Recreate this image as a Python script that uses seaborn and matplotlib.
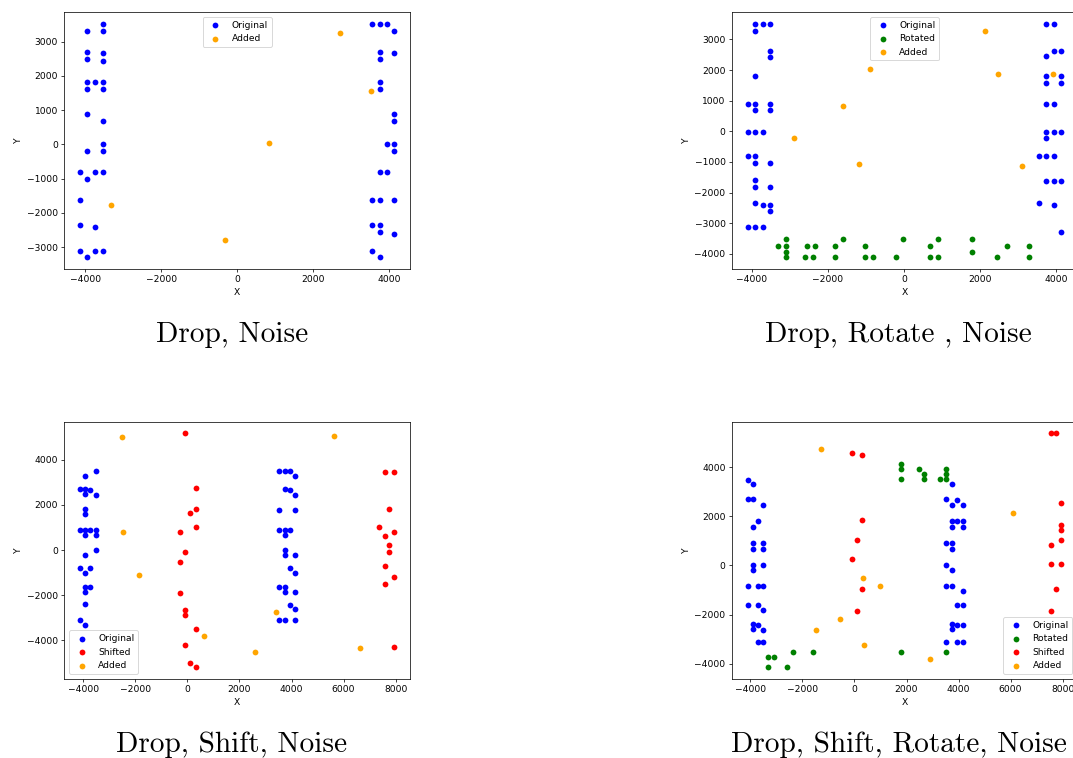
import matplotlib
matplotlib.use("Agg")
import matplotlib.pyplot as plt
import seaborn as sns
import pandas as pd

# ---------------- Panel 1: Drop, Noise ----------------
p1_orig_x = [-3950, -3540, -3540, -3950, -3950, -3540, -3540, -3950, -3744, -3540, -3950, -3540,
             -3950, -3540, -3540, -3950, -3540, -4141, -3744, -3540, -3950, -4141, -4141, -3744,
             -4141, -3744, -3540, -3950,
             3542, 3744, 3947, 4132, 3744, 3744, 4132, 3744, 3744, 4132, 4132, 3947, 4132, 4132,
             3744, 3947, 3542, 3744, 4132, 3542, 3744, 3744, 4132, 3542, 3744]
p1_orig_y = [3300, 3500, 3300, 2690, 2485, 2660, 2447, 1806, 1806, 1806, 1602, 1602,
             893, 689, 0, -204, -204, -816, -816, -816, -1019, -1612, -2350, -2417,
             -3117, -3117, -3117, -3301,
             3515, 3515, 3515, 3301, 2690, 2485, 2660, 1806, 1602, 893, 689, 0, 0, -204,
             -816, -816, -1612, -1612, -1612, -2350, -2350, -2553, -2621, -3117, -3301]
p1_add_x = [2696, 3507, 846, -3322, -317]
p1_add_y = [3243, 1544, 39, -1786, -2796]

# ---------------- Panel 2: Drop, Rotate, Noise ----------------
p2_orig_x = [-3912, -3711, -3518, -3912, -3518, -3518, -3912, -4105, -3912, -3518, -3912, -3518,
             -4105, -3912, -3711, -4105, -3912, -3912, -3518, -3912, -3912, -3518, -3912, -3711,
             -3518, -3518, -4105, -3912, -3711,
             3746, 3947, 3947, 4140, 3746, 3746, 4140, 3746, 4140, 3746, 3947, 3746, 3947, 4140,
             3746, 3544, 3746, 3947, 3746, 3947, 4140, 3544, 3947, 4140]
p2_orig_y = [3507, 3507, 3507, 3290, 2638, 2421, 1792, 890, 890, 890, 684, 684,
             -22, -22, -22, -803, -803, -1020, -1020, -1596, -1813, -1813, -2356, -2421,
             -2421, -2606, -3127, -3127, -3127,
             3507, 3507, 2638, 2638, 2475, 1792, 1792, 1585, 1585, 890, 890, -22, -22, -22,
             -217, -803, -803, -803, -1607, -1607, -1607, -2356, -2421, -3300]
p2_rot_x = [-3298, -3088, -3088, -3088, -3088, -2596, -2544, -2395, -2342, -1798, -1798, -1596,
            -1018, -1018, -807, -202, -9, 693, 693, 895, 895, 1789, 1789, 2447, 2702, 3298, 3298]
p2_rot_y = [-3735, -3518, -3735, -3952, -4115, -4115, -3735, -4115, -3735, -3735, -4115, -3518,
            -3735, -4115, -4115, -4115, -3518, -3735, -4115, -3518, -4115, -3518, -3930, -4115,
            -3735, -3735, -4115]
p2_add_x = [2132, -886, 2482, 3921, -1605, -2877, -1167, 3105]
p2_add_y = [3290, 2020, 1868, 1868, 825, -217, -1053, -1129]

# ---------------- Panel 3: Drop, Shift, Noise ----------------
p3_orig_x = [-3525, -3920, -4126, -3920, -3740, -3920, -3525, -3920, -3920, -4126, -3920, -3740,
             -3525, -3920, -3525, -3525, -3920, -4126, -3740, -3920, -3920, -3740, -3920, -3920,
             -4126, -3920,
             3529, 3734, 3937, 4131, 3734, 3937, 4131, 3529, 4131, 3529, 3734, 3937, 3734, 3734,
             3734, 4131, 3937, 4131, 3529, 3734, 3734, 4131, 3937, 4131, 3529, 3734, 4131]
p3_orig_y = [3500, 3279, 2706, 2706, 2647, 2500, 2441, 1809, 1603, 897, 897, 897,
             897, 662, 662, 0, -235, -809, -809, -1029, -1632, -1632, -1838, -2368,
             -3103, -3338,
             3500, 3500, 3500, 3279, 2706, 2647, 2441, 1794, 1794, 897, 897, 897, 662, 0,
             -235, -235, -809, -1029, -1632, -1632, -1838, -1838, -2441, -2632, -3103, -3103, -3103]
p3_shift_x = [-81, 330, 330, 112, 330, -274, -81, -274, -274, -81, -81, 330, -81, 112, 330,
              7575, 7947, 7755, 7357, 7575, 7947, 7755, 7755, 7575, 7947, 7575, 7947]
p3_shift_y = [5176, 2735, 1838, 1632, 1044, 824, -74, -529, -1882, -2676, -2882, -3485, -4221,
              -5000, -5176,
              3441, 3441, 1838, 1044, 632, 794, 235, -74, -706, -1176, -1485, -4279]
p3_add_x = [-2495, 5640, -2482, -1878, 3387, 636, 2590, 6625]
p3_add_y = [5015, 5044, 794, -1118, -2765, -3794, -4529, -4338]

# ---------------- Panel 4: Drop, Shift, Rotate, Noise ----------------
p4_orig_x = [-4103, -3897, -4103, -3897, -3500, -3718, -3897, -3897, -3500, -3897, -3500, -3897,
             -3500, -3897, -4103, -3718, -3500, -4103, -3718, -3500, -3897, -3718, -3897, -3500,
             -3718, -3500,
             3744, 3513, 3923, 3744, 4154, 3744, 3923, 4154, 3744, 4154, 3513, 3744, 3744, 3513,
             3744, 3513, 3744, 4154, 3923, 4154, 3744, 3923, 4154, 3744, 3513, 3923, 4154]
p4_orig_y = [3500, 3311, 2689, 2689, 2459, 1811, 1581, 919, 919, 676, 676, 0,
             0, -203, -824, -824, -824, -1622, -1622, -1824, -2365, -2419, -2595, -2635,
             -3122, -3122,
             3311, 2689, 2649, 2459, 2459, 1811, 1811, 1811, 1581, 1581, 919, 919, 676, 0,
             -203, -824, -824, -1027, -1622, -1622, -2365, -2419, -2419, -2595, -3122, -3122, -3122]
p4_rot_x = [1782, 1782, 1782, 2474, 2654, 2654, 3269, 3500, 3500, 3500,
            -3308, -3090, -3308, -2603, -2346, -1603, 1782, 3500]
p4_rot_y = [4135, 3919, 3527, 3919, 3730, 3527, 3527, 3919, 3730, 3527,
            -3730, -3730, -4135, -4135, -3541, -3541, -3541, -3541]
p4_shift_x = [7564, 7756, -103, 308, 308, 103, -103, 308, 103,
              7949, 7949, 7949, 7949, 7564, 7564, 7949, 7756, 7564]
p4_shift_y = [5378, 5378, 4568, 4500, 1838, 1041, 257, -959, -1865,
              2541, 1662, 1459, 1041, 838, 54, 54, -959, -1865]
p4_add_x = [-1282, 6090, 346, 987, -564, -1474, 372, 2910]
p4_add_y = [4757, 2149, -514, -824, -2176, -2608, -3257, -3824]

captions = ["Drop, Noise", "Drop, Rotate , Noise", "Drop, Shift, Noise", "Drop, Shift, Rotate, Noise"]
colors = {"Original": "blue", "Rotated": "green", "Shifted": "red", "Added": "orange"}

panels = [
    [("Original", p1_orig_x, p1_orig_y), ("Added", p1_add_x, p1_add_y)],
    [("Original", p2_orig_x, p2_orig_y), ("Rotated", p2_rot_x, p2_rot_y), ("Added", p2_add_x, p2_add_y)],
    [("Original", p3_orig_x, p3_orig_y), ("Shifted", p3_shift_x, p3_shift_y), ("Added", p3_add_x, p3_add_y)],
    [("Original", p4_orig_x, p4_orig_y), ("Rotated", p4_rot_x, p4_rot_y),
     ("Shifted", p4_shift_x, p4_shift_y), ("Added", p4_add_x, p4_add_y)],
]
legend_locs = ["upper center", "upper center", "lower left", "lower right"]

DPI = 66
W, H = 1073, 758
fig = plt.figure(figsize=(W / DPI, H / DPI), dpi=DPI)

# axes boxes in pixels: left, top, width, height
boxes = [(64.3, 12.3, 345.7, 256.7), (732.0, 12.3, 345.0, 256.7),
         (64.3, 421.7, 345.7, 256.8), (732.0, 421.7, 345.0, 257.0)]
caption_pos = [(232, 342.3), (898, 342.3), (231.5, 751.8), (899, 751.8)]

for i, (groups, box) in enumerate(zip(panels, boxes)):
    l, t, w, h = box
    ax = fig.add_axes([l / W, 1 - (t + h) / H, w / W, h / H])
    for name, xs, ys in groups:
        df = pd.DataFrame({"X": xs, "Y": ys})
        sns.scatterplot(data=df, x="X", y="Y", color=colors[name], s=40,
                        linewidth=0, label=name, ax=ax, legend=False)
    ax.set_xlabel("X")
    ax.set_ylabel("Y")
    ax.legend(loc=legend_locs[i])
    cx, cy = caption_pos[i]
    fig.text(cx / W, 1 - cy / H, captions[i], ha="center", va="baseline",
             fontsize=32, family="cmr10")

fig.savefig("out.png", dpi=DPI)
